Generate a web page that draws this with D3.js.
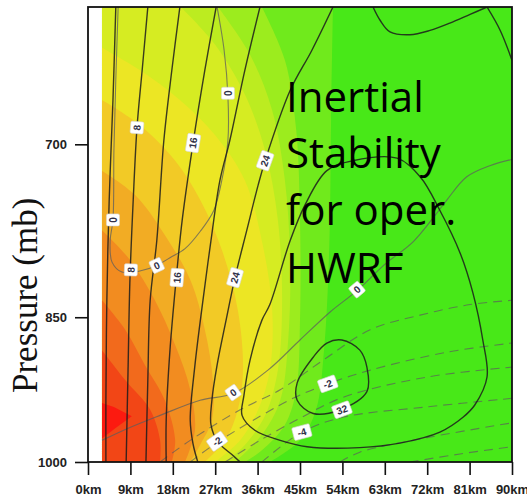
<!DOCTYPE html>
<html>
<head>
<meta charset="utf-8">
<script src="https://cdn.jsdelivr.net/npm/d3@7"></script>
<style>
  body { margin: 0; background: #fff; }
  svg { display: block; }
</style>
</head>
<body>
<div id="chart"></div>
<script>
// radius (km) and pressure (mb) of the cross-section
const radiusTicks = [0, 9, 18, 27, 36, 45, 54, 63, 72, 81, 90];
const pressureTicks = [700, 850, 1000];
const rMin = 2.97; // first model radius, nothing plotted inside it

// shaded inertial stability, greenest band first
const bandColors = ["#48e818", "#70ea1c", "#9cec1e", "#bcec20", "#d6ec22", "#ece624",
                    "#f2ca26", "#f2ac24", "#f28c20", "#f26a1c", "#f24616", "#fc1a10"];

// edges between bands as [radius km, pressure mb]
const bandEdge1 = [[52.0,600],[51.6,681],[51.2,788],[50.1,882],[48.4,943],[45.0,976],[38.6,1000]];
const bandEdge2 = [[36.9,600],[41.8,637],[44.2,689],[45.0,762],[45.0,853],[44.2,922],[41.8,959],[36.9,987],[33.3,1000]];
const bandEdge3 = [[27.6,600],[34.4,633],[39.1,674],[41.8,729],[42.9,797],[42.5,872],[40.8,933],[36.9,970],[31.2,1000]];
const bandEdge4 = [[19.7,600],[27.0,626],[33.3,662],[37.6,705],[40.3,762],[41.2,834],[40.3,902],[37.6,949],[33.3,981],[29.1,1000]];
const bandEdge5 = [[2.97,628],[11.0,644],[19.5,666],[27.0,693],[33.3,729],[36.9,780],[39.1,843],[38.6,902],[36.1,943],[32.3,976],[27.0,1000]];
const bandEdge6 = [[2.97,666],[11.0,685],[18.5,713],[23.8,745],[28.4,788],[31.8,843],[32.9,902],[31.8,943],[29.1,976],[24.8,1000]];
const bandEdge7 = [[2.97,721],[10.0,741],[16.3,775],[21.7,815],[24.8,862],[26.5,912],[26.3,954],[23.8,981],[21.7,1000]];
const bandEdge8 = [[2.97,771],[8.9,797],[14.2,834],[18.5,877],[21.7,922],[22.7,965],[20.6,1000]];
const bandEdge9 = [[2.97,834],[7.9,862],[12.1,897],[16.3,933],[18.5,976],[17.8,1000]];
const bandEdge10 = [[2.97,882],[7.9,912],[13.2,943],[15.3,976],[15.3,1000]];
const redCore = [[2.97,936],[5.5,940],[9.3,950],[6.0,962],[2.97,974]];

// tangential wind contours (black)
const wind4 = [[5.9,600],[5.3,666],[4.5,745],[4.0,834],[3.8,933],[3.8,1000]];
const wind8 = [[12.7,600],[11.5,644],[10.4,687],[9.6,745],[8.9,815],[8.5,902],[8.1,1000]];
const wind12 = [[19.5,600],[17.8,644],[16.1,697],[14.6,780],[13.2,834],[12.7,912],[12.3,1000]];
const wind16 = [[27.2,600],[24.8,644],[22.3,699],[20.0,762],[18.7,815],[17.4,882],[16.6,954],[16.6,1000]];
const wind20 = [[36.5,600],[33.3,644],[30.1,697],[28.0,729],[26.1,780],[24.4,834],[22.7,897],[21.7,954],[22.3,980],[23.3,1000]];
const wind24 = [[52.0,600],[47.5,630],[42.9,659],[37.6,713],[36.1,733],[33.7,771],[31.2,813],[29.3,853],[27.4,897],[26.3,933],[26.1,959],[27.6,978],[30.6,992],[32.3,1000]];
const windTopA = [[60.5,600],[62.0,609],[64.1,617],[68.3,619],[72.6,616],[76.8,611],[81.1,605],[84.7,600]];
const windTopB = [[84.7,600],[87.5,616],[90,637]];
const wind28 = [[36.9,853],[38.6,838],[42.9,780],[46.1,749],[50.7,721],[56.2,713],[65.6,711],[70.5,726],[74.7,754],[79.0,791],
                [81.7,827],[83.8,872],[84.7,909],[82.1,938],[79.6,951],[74.7,967],[66.2,979],[57.7,984],[46.5,983],[40.8,976],
                [35.4,965],[32.7,949],[33.1,928],[34.4,892]];
const wind32 = [[53.9,872],[57.7,882],[59.2,899],[59.2,924],[53.5,943],[47.8,947],[44.4,933],[44.4,915],[47.8,889],[50.7,875]];

// radial wind contours (grey): zero lines solid, inflow dashed
const radialZeroUpper = [[27.4,600],[28.9,630],[29.7,663],[29.7,697],[28.4,729],[26.7,754],[23.8,772],[20.6,787],[17.4,795],
                         [14.6,802],[11.0,807],[7.2,808],[5.1,799],[4.7,780],[5.3,762],[5.5,705],[5.9,651],[6.4,600]];
const radialZeroLower = [[2.97,976],[8.9,962],[15.3,949],[23.8,933],[30.8,926],[38.2,902],[45.0,872],[51.4,845],[57.1,825],
                         [63.0,801],[69.0,781],[73.7,758],[76.2,745],[80.4,726],[85.3,717],[90,712]];
const radialMinus1 = [[15.3,1000],[21.7,976],[32.3,943],[40.8,922],[49.9,892],[59.9,862],[70.5,848],[81.1,838],[90,834]];
const radialMinus2 = [[21.7,1000],[27.2,979],[36.5,950],[43.5,931],[50.9,916],[59.9,902],[76.2,884],[90,875]];
const radialMinus3 = [[29.1,1000],[36.5,976],[45.0,952],[54.1,930],[72.0,909],[90,899]];
const radialMinus4 = [[36.9,1000],[45.4,967],[54.1,951],[72.0,940],[90,931]];
const radialMinus5 = [[53.5,1000],[57.7,989],[72.0,973],[90,957]];
const radialMinus6 = [[68.3,1000],[79.0,991],[90,983]];

// contour labels: [text, radius km, pressure mb, angle]
const windLabels = [["8",10.4,687,-85],["16",22.3,699,-81],["24",37.6,713,-70],
                    ["8",9.1,806,-88],["16",18.9,813,-85],["24",31.2,813,-74],["32",53.9,943,-20]];
const radialLabels = [["0",29.7,661,-90],["0",5.3,762,-90],["0",14.6,802,-25],["0",30.8,925,-35],
                      ["0",57.1,824,-40],["-2",27.4,977,-35],["-2",50.9,916,-20],["-4",45.4,967,-15]];

const noteLines = ["Inertial", "Stability", "for oper.", "HWRF"];

const width = 527, height = 496;
const margin = { top: 7, right: 15, bottom: 34, left: 88 };

const x = d3.scaleLinear().domain([0, 90]).range([margin.left, width - margin.right]);
const y = d3.scaleLog().domain([600, 1000]).range([margin.top, height - margin.bottom]);

const svg = d3.select("#chart").append("svg")
    .attr("width", width)
    .attr("height", height);

svg.append("defs").append("clipPath")
    .attr("id", "plot-clip")
  .append("rect")
    .attr("x", x(0))
    .attr("y", y(600))
    .attr("width", x(90) - x(0))
    .attr("height", y(1000) - y(600));

const plot = svg.append("g").attr("clip-path", "url(#plot-clip)");

const line = d3.line()
    .x(d => x(d[0]))
    .y(d => y(d[1]))
    .curve(d3.curveCatmullRom.alpha(0.5));
const loop = d3.line()
    .x(d => x(d[0]))
    .y(d => y(d[1]))
    .curve(d3.curveCatmullRomClosed.alpha(0.5));

// background band (greenest)
plot.append("rect")
    .attr("x", x(rMin))
    .attr("y", y(600))
    .attr("width", x(90) - x(rMin))
    .attr("height", y(1000) - y(600))
    .attr("fill", bandColors[0]);

// each band fills everything inward/below its edge, painted outermost first
const bandEdges = [bandEdge1, bandEdge2, bandEdge3, bandEdge4, bandEdge5,
                   bandEdge6, bandEdge7, bandEdge8, bandEdge9, bandEdge10];
bandEdges.forEach((edge, i) => {
    const corners = edge[0][1] <= 600 ? [[rMin, 1000], [rMin, 600]] : [[rMin, 1000]];
    const tail = corners.map(c => "L" + x(c[0]) + "," + y(c[1])).join("");
    plot.append("path")
        .attr("d", line(edge) + tail + "Z")
        .attr("fill", bandColors[i + 1]);
});
plot.append("path")
    .attr("d", d3.line().x(d => x(d[0])).y(d => y(d[1])).curve(d3.curveLinearClosed)(redCore))
    .attr("fill", bandColors[11]);

// radial wind (grey)
[radialZeroUpper, radialZeroLower].forEach(d => {
    plot.append("path")
        .attr("d", line(d))
        .attr("fill", "none")
        .attr("stroke", "#5d5d5d")
        .attr("stroke-opacity", 0.75)
        .attr("stroke-width", 1.1);
});
[radialMinus1, radialMinus2, radialMinus3, radialMinus4, radialMinus5, radialMinus6].forEach(d => {
    plot.append("path")
        .attr("d", line(d))
        .attr("fill", "none")
        .attr("stroke", "#5d5d5d")
        .attr("stroke-opacity", 0.7)
        .attr("stroke-width", 1.1)
        .attr("stroke-dasharray", "9,6");
});

// tangential wind (black)
[wind4, wind8, wind12, wind16, wind20, wind24, windTopA, windTopB].forEach(d => {
    plot.append("path")
        .attr("d", line(d))
        .attr("fill", "none")
        .attr("stroke", "#1c1c1c")
        .attr("stroke-opacity", 0.85)
        .attr("stroke-width", 1.4);
});
[wind28, wind32].forEach(d => {
    plot.append("path")
        .attr("d", loop(d))
        .attr("fill", "none")
        .attr("stroke", "#1c1c1c")
        .attr("stroke-opacity", 0.85)
        .attr("stroke-width", 1.4);
});

// contour labels in small white boxes
windLabels.concat(radialLabels).forEach(d => {
    const g = plot.append("g")
        .attr("transform", "translate(" + x(d[1]) + "," + y(d[2]) + ") rotate(" + d[3] + ")");
    const w = d[0].length * 6 + 6;
    g.append("rect")
        .attr("x", -w / 2)
        .attr("y", -6.5)
        .attr("width", w)
        .attr("height", 13)
        .attr("rx", 1.5)
        .attr("fill", "#fff")
        .attr("stroke", "#d8d8d8")
        .attr("stroke-width", 0.6);
    g.append("text")
        .attr("text-anchor", "middle")
        .attr("dy", "0.36em")
        .style("font-family", "'Liberation Sans', Arial, sans-serif")
        .style("font-weight", "bold")
        .style("font-size", "10px")
        .style("fill", "#303048")
        .text(d[0]);
});

// frame
svg.append("rect")
    .attr("x", x(0))
    .attr("y", y(600))
    .attr("width", x(90) - x(0))
    .attr("height", y(1000) - y(600))
    .attr("fill", "none")
    .attr("stroke", "#111")
    .attr("stroke-width", 1.8);

// axes
const yAxis = svg.append("g")
    .attr("transform", "translate(" + x(0) + ",0)")
    .call(d3.axisLeft(y).tickValues(pressureTicks).tickSize(13).tickPadding(8).tickFormat(d3.format("d")));
const xAxis = svg.append("g")
    .attr("transform", "translate(0," + y(1000) + ")")
    .call(d3.axisBottom(x).tickValues(radiusTicks).tickSize(13).tickPadding(10).tickFormat(d => d + "km"));
[yAxis, xAxis].forEach(a => {
    a.select(".domain").remove();
    a.selectAll(".tick line").attr("stroke", "#111").attr("stroke-width", 1.6);
    a.selectAll(".tick text")
        .style("font-family", "'Liberation Sans', Arial, sans-serif")
        .style("font-weight", "bold")
        .style("font-size", "13px")
        .style("fill", "#222");
});

// axis title
svg.append("text")
    .attr("transform", "translate(37,393) rotate(-90)")
    .attr("text-anchor", "start")
    .style("font-family", "'Liberation Serif', 'Times New Roman', serif")
    .style("font-size", "35px")
    .style("fill", "#111")
    .text("Pressure (mb)");

// annotation
const noteBaselines = [112, 168, 225, 283];
noteLines.forEach((t, i) => {
    svg.append("text")
        .attr("x", 286)
        .attr("y", noteBaselines[i])
        .style("font-family", "'Open Sans', sans-serif")
        .style("font-size", "42px")
        .style("fill", "#000")
        .text(t);
});
</script>
</body>
</html>
